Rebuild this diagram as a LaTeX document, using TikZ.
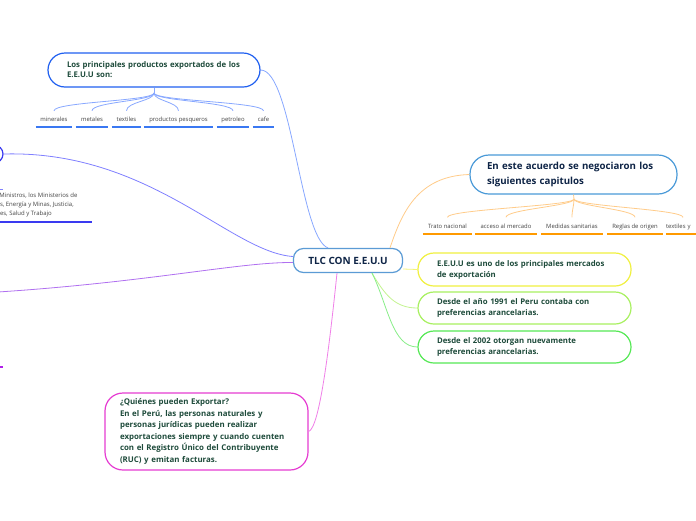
\documentclass[tikz,border=0pt]{standalone}
\usepackage{fontspec}
\setmainfont{Open Sans}
\definecolor{txtg}{HTML}{1E4B3B}
\definecolor{txtn}{HTML}{0E2446}
\definecolor{labg}{HTML}{444444}
\definecolor{cblue}{HTML}{5B9BD5}
\definecolor{topb}{HTML}{2060F0}
\definecolor{topl}{HTML}{88A8FF}
\definecolor{topu}{HTML}{3A78F2}
\definecolor{orL}{HTML}{FFCC8A}
\definecolor{orU}{HTML}{FF9A00}
\definecolor{rtb}{HTML}{4A9AD8}
\definecolor{yel}{HTML}{F0F040}
\definecolor{yelL}{HTML}{F4F47A}
\definecolor{lgr}{HTML}{A8F060}
\definecolor{lgrL}{HTML}{C4F490}
\definecolor{gr}{HTML}{55E855}
\definecolor{grL}{HTML}{88EE88}
\definecolor{mag}{HTML}{E63CD2}
\definecolor{magL}{HTML}{F080E8}
\definecolor{leftb}{HTML}{3A3AF0}
\definecolor{leftl}{HTML}{8080FF}
\definecolor{purp}{HTML}{B070F0}
\definecolor{purpU}{HTML}{B020E8}
\begin{document}
\begin{tikzpicture}[x=1pt,y=-1pt,
  mbox/.style={draw, line width=1.2pt, fill=white, align=left, inner ysep=0pt},
  lab/.style={font=\fontsize{5.9}{7}\selectfont, text=labg, inner ysep=0pt, inner xsep=0pt, text height=5pt, text depth=5.5pt, anchor=base},
  conn/.style={line width=0.8pt}
]
\useasboundingbox (0,0) rectangle (696,520);
\fill[white] (0,0) rectangle (696,520);
\clip (0,0) rectangle (696,520);

% central node
\node[mbox, draw=cblue, rounded corners=10pt, minimum width=109pt, minimum height=24pt, align=center,
  font=\fontsize{10}{12}\selectfont\bfseries, text=txtn] (c) at (348,260.5) {TLC CON E.E.U.U};

% top node
\node[mbox, draw=topb, rounded corners=17pt, text width=178pt, inner xsep=17pt, minimum height=34pt,
  font=\fontsize{7.8}{10}\selectfont\bfseries, text=txtg] (t) at (154,70)
  {\hspace*{2pt}Los principales productos exportados de los\\\hspace*{2pt}E.E.U.U son:};

% right top node
\node[mbox, draw=rtb, rounded corners=19pt, text width=173pt, inner xsep=17pt, minimum height=39pt,
  font=\fontsize{9.7}{14.5}\selectfont\bfseries, text=txtn] (r) at (573.5,174.5)
  {En este acuerdo se negociaron los\\siguientes capitulos};

% right boxes
\node[mbox, draw=yel, rounded corners=16pt, text width=175pt, inner xsep=19pt, minimum height=33pt,
  font=\fontsize{7.8}{11}\selectfont\bfseries, text=txtg] (b1) at (524.5,269.5)
  {E.E.U.U es uno de los principales mercados\\de exportación};
\node[mbox, draw=lgr, rounded corners=16pt, text width=175pt, inner xsep=19pt, minimum height=32pt,
  font=\fontsize{7.8}{11}\selectfont\bfseries, text=txtg] (b2) at (524.5,308)
  {Desde el año 1991 el Peru contaba con\\preferencias arancelarias.};
\node[mbox, draw=gr, rounded corners=16pt, text width=175pt, inner xsep=19pt, minimum height=32pt,
  font=\fontsize{7.8}{11}\selectfont\bfseries, text=txtg] (b3) at (524.5,347)
  {Desde el 2002 otorgan nuevamente\\preferencias arancelarias.};

% bottom node
\node[mbox, draw=mag, rounded corners=18pt, text width=177pt, inner xsep=13pt, minimum height=77pt,
  font=\fontsize{7.9}{11.6}\selectfont\bfseries, text=txtg] (q) at (206.5,431.5)
  {\hspace*{2pt}¿Quiénes pueden Exportar?\\\hspace*{2pt}En el Perú, las personas naturales y\\\hspace*{2pt}personas jurídicas pueden realizar\\\hspace*{2pt}exportaciones siempre y cuando cuenten\\\hspace*{2pt}con el Registro Único del Contribuyente\\\hspace*{2pt}(RUC) y emitan facturas.};

% left (cut off) node
\node[mbox, draw=leftb, rounded corners=9pt, minimum width=153pt, minimum height=18pt] (l) at (-73.5,154) {};
\node[anchor=north west, align=left, inner sep=0pt, font=\fontsize{6}{9}\selectfont, text=labg] (lt) at (-0.8,193)
  {Ministros, los Ministerios de\\\hspace*{0.6pt}s, Energía y Minas, Justicia,\\\hspace*{0.6pt}es, Salud y Trabajo};
\coordinate (lu1) at (-5,222);
\coordinate (lu2) at (92,222);
\draw[leftb, line width=1.4pt] (lu1) -- (lu2);
\coordinate (lm1) at (-5,189.5);
\coordinate (lm2) at (3,189.5);
\draw[leftl, conn] (lm1) -- (lm2);
\coordinate (pu1) at (-10,367);
\coordinate (pu2) at (3,367);
\draw[purpU, line width=1.4pt] (pu1) -- (pu2);
\coordinate (pl) at (-2,292);

% main connectors
\draw[leftl, conn] (l.east) .. controls (150,150) and (230,252) .. ([yshift=4pt]c.west);
\draw[purp, conn] (pl) .. controls (150,282) and (240,262) .. ([yshift=-2pt]c.west);
\draw[topl, conn] (t.east) .. controls (292,70) and (300,238) .. ([xshift=-20pt]c.north);
\draw[orL, conn] ([xshift=42pt]c.north) .. controls (402,212) and (418,176) .. (r.west);
\draw[yelL, conn] ([yshift=-8.5pt]c.east) -- (b1.west);
\draw[lgrL, conn] ([xshift=24pt]c.south) .. controls (385,295) and (395,308) .. (b2.west);
\draw[grL, conn] ([xshift=24pt]c.south) .. controls (388,305) and (392,347) .. (b3.west);
\draw[magL, conn] ([xshift=-11pt]c.south) .. controls (330,340) and (320,428) .. (q.east);

% top node children
\coordinate (tb) at (154,93);
\draw[topl, conn] (t.south) -- (tb);
\node[lab, minimum width=36pt] (m1) at (54,121) {minerales};
\node[lab, minimum width=32pt] (m2) at (92,121) {metales};
\node[lab, minimum width=29pt] (m3) at (126.5,121) {textiles};
\node[lab, minimum width=69pt] (m4) at (178.5,121) {productos pesqueros};
\node[lab, minimum width=32pt] (m5) at (233,121) {petroleo};
\node[lab, minimum width=21pt] (m6) at (263.5,121) {cafe};
\foreach \m in {m1,m2,m3,m4,m5,m6}{
  \draw[topl, conn] (tb) .. controls (154,101) and ([yshift=14pt]\m.north) .. ([yshift=5pt]\m.north);
  \draw[topu, line width=1.6pt] (\m.south west) -- (\m.south east);
}

% right top children
\coordinate (rb) at (574,199);
\draw[orL, conn] (r.south) -- (rb);
\node[lab, minimum width=49pt] (n1) at (447.5,228.5) {Trato nacional};
\node[lab, minimum width=62pt] (n2) at (506,228.5) {acceso al mercado};
\node[lab, minimum width=62pt] (n3) at (572,228.5) {Medidas sanitarias};
\node[lab, minimum width=56pt] (n4) at (635,228.5) {Reglas de origen};
\node[lab, minimum width=34pt, align=left, text width=34pt] (n5) at (683,228.5) {textiles y};
\foreach \m in {n1,n2,n3,n4,n5}{
  \draw[orL, conn] (rb) .. controls (574,206) and ([yshift=14pt]\m.north) .. ([yshift=6pt]\m.north);
  \draw[orU, line width=1.6pt] (\m.south west) -- (\m.south east);
}
\end{tikzpicture}
\end{document}
